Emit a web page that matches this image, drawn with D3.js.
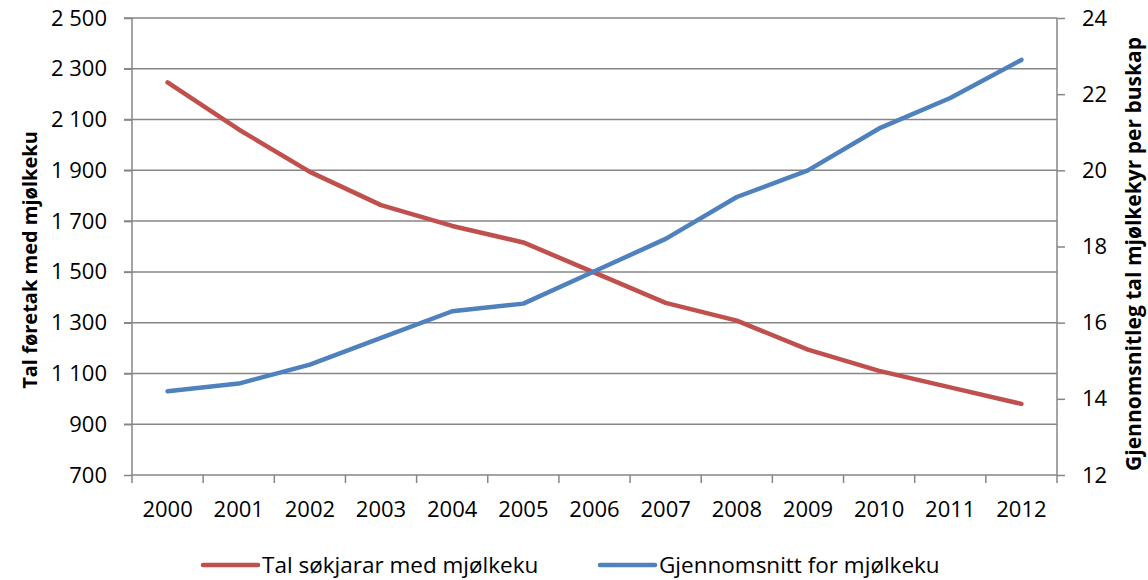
<!DOCTYPE html>
<html>
<head>
<meta charset="utf-8">
<script src="https://cdn.jsdelivr.net/npm/d3@7"></script>
<style>
  body { margin: 0; background: #fff; }
  text { font-family: "Open Sans", "Noto Sans", sans-serif; fill: #000; }
  .axis path, .axis line { stroke: #868686; stroke-width: 1.5; }
  .axis text { font-size: 22px; }
  .grid line { stroke: #868686; stroke-width: 1.5; }
  .axis-title { font-size: 20px; font-weight: bold; }
  .legend text { font-size: 22.5px; }
</style>
</head>
<body>
<svg id="chart"></svg>
<script>
// Data
const years = ['2000','2001','2002','2003','2004','2005','2006','2007','2008','2009','2010','2011','2012'];
const farms = [2246, 2061, 1894, 1763, 1681, 1616, 1497, 1378, 1308, 1194, 1110, 1045, 980];
const cowsPerHerd = [14.2, 14.4, 14.9, 15.6, 16.3, 16.5, 17.35, 18.2, 19.3, 20.0, 21.1, 21.9, 22.9];
const leftTicks = [700, 900, 1100, 1300, 1500, 1700, 1900, 2100, 2300, 2500];
const rightTicks = [12, 14, 16, 18, 20, 22, 24];
const seriesNames = ['Tal søkjarar med mjølkeku', 'Gjennomsnitt for mjølkeku'];
const colors = ['#C0504D', '#4F81BD'];

const W = 1148, H = 580;
const margin = {top: 18, right: 91, bottom: 105, left: 132};
const width = W - margin.left - margin.right;
const height = H - margin.top - margin.bottom;

const svg = d3.select('#chart').attr('width', W).attr('height', H);
const chart = svg.append('g').attr('transform', `translate(${margin.left},${margin.top})`);

const xScale = d3.scaleBand().domain(years).range([0, width]);
const yLeft = d3.scaleLinear().domain([700, 2500]).range([height, 0]);
const yRight = d3.scaleLinear().domain([12, 24]).range([height, 0]);

const fmt = d => d3.format(',')(d).replace(/,/g, ' ');

// Gridlines
chart.append('g').attr('class', 'grid')
  .selectAll('line')
  .data(leftTicks.filter(d => d > 700))
  .join('line')
    .attr('x1', -8).attr('x2', width)
    .attr('y1', d => yLeft(d)).attr('y2', d => yLeft(d));

// Left axis
const yAxisL = d3.axisLeft(yLeft).tickValues(leftTicks).tickFormat(fmt).tickSize(8).tickPadding(17);
chart.append('g').attr('class', 'axis').call(yAxisL)
  .call(g => g.select('.domain').attr('d', `M0,0V${height}`));

// Right axis
const yAxisR = d3.axisRight(yRight).tickValues(rightTicks).tickSize(8).tickPadding(17);
chart.append('g').attr('class', 'axis')
  .attr('transform', `translate(${width},0)`)
  .call(yAxisR)
  .call(g => g.select('.domain').attr('d', `M0,0V${height}`));

// Bottom axis, ticks between categories
const xAxisG = chart.append('g').attr('class', 'axis')
  .attr('transform', `translate(0,${height})`);
xAxisG.append('line').attr('x1', 0).attr('x2', width).attr('y1', 0).attr('y2', 0);
xAxisG.selectAll('.tickmark')
  .data(d3.range(years.length + 1))
  .join('line')
    .attr('class', 'tickmark')
    .attr('x1', i => i * xScale.step()).attr('x2', i => i * xScale.step())
    .attr('y1', 0).attr('y2', 8);
xAxisG.selectAll('.lbl')
  .data(years)
  .join('text')
    .attr('class', 'lbl')
    .attr('x', d => xScale(d) + xScale.bandwidth() / 2)
    .attr('y', 42)
    .attr('text-anchor', 'middle')
    .text(d => d);

// Lines
const cx = (d, i) => xScale(years[i]) + xScale.bandwidth() / 2;
const lineL = d3.line().x(cx).y(d => yLeft(d));
const lineR = d3.line().x(cx).y(d => yRight(d));

chart.append('path').datum(farms)
  .attr('d', lineL).attr('fill', 'none')
  .attr('stroke', colors[0]).attr('stroke-width', 4.5)
  .attr('stroke-linecap', 'round').attr('stroke-linejoin', 'round');

chart.append('path').datum(cowsPerHerd)
  .attr('d', lineR).attr('fill', 'none')
  .attr('stroke', colors[1]).attr('stroke-width', 4.5)
  .attr('stroke-linecap', 'round').attr('stroke-linejoin', 'round');

// Axis titles
svg.append('text')
  .attr('class', 'axis-title')
  .attr('transform', `translate(37,260) rotate(-90)`)
  .attr('text-anchor', 'middle')
  .text('Tal føretak med mjølkeku');

svg.append('text')
  .attr('class', 'axis-title')
  .style('font-size', '21px')
  .attr('transform', `translate(1141,254) rotate(-90)`)
  .attr('text-anchor', 'middle')
  .text('Gjennomsnitleg tal mjølkekyr per buskap');

// Legend
const legendX = [203, 600];
const legend = svg.append('g').attr('class', 'legend');
seriesNames.forEach((name, i) => {
  const g = legend.append('g').attr('transform', `translate(${legendX[i]},565)`);
  g.append('line').attr('x1', 0).attr('x2', 55).attr('y1', 0).attr('y2', 0)
    .attr('stroke', colors[i]).attr('stroke-width', 4.5).attr('stroke-linecap', 'round');
  g.append('text').attr('x', 59).attr('y', 8).text(name);
});
</script>
</body>
</html>
